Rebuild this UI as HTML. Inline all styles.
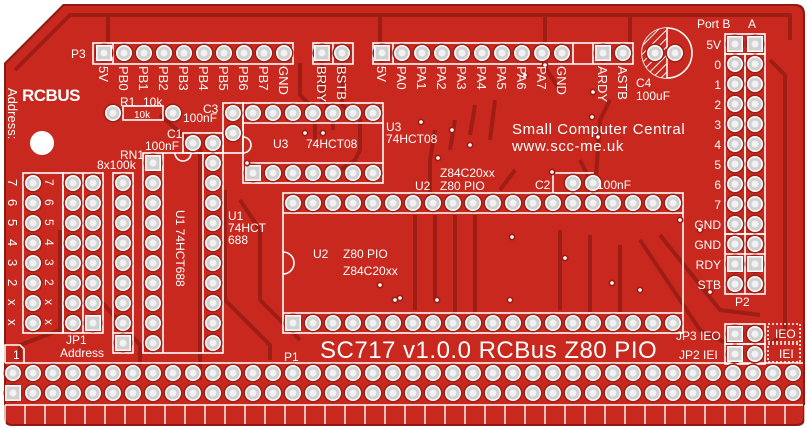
<!DOCTYPE html>
<html><head><meta charset="utf-8"><style>
html,body{margin:0;padding:0;background:#fff;width:807px;height:428px;overflow:hidden}
svg{display:block}
text{font-family:"Liberation Sans",sans-serif;fill:#fff}
</style></head><body>
<svg id="s" width="807" height="428" viewBox="0 0 807 428" xmlns="http://www.w3.org/2000/svg">
<defs>
<pattern id="h" width="6" height="6" patternUnits="userSpaceOnUse" patternTransform="rotate(45)"><rect width="6" height="6" fill="#c8281e"/><line x1="0" y1="0" x2="0" y2="6" stroke="#fff" stroke-width="2"/></pattern>
</defs>
<path d="M63,4 L795,4 Q805,4 805,14 L805,418 Q805,426 797,426 L12,426 Q4,426 4,418 L4,63 Z" fill="#8e1a12"/>
<path d="M64,6 L794,6 Q803,6 803,15 L803,417 Q803,424 796,424 L12,424 Q6,424 6,418 L6,64 Z" fill="#c8281e"/>
<g fill="none" stroke="#9e1d14" stroke-width="4" stroke-linejoin="round">
<path d="M15,70 L70,15 L790,15 L790,40"/>
<path d="M108,15 L108,44 M380,15 L380,44 M545,15 L545,44 M630,15 L630,44"/>
<path d="M300,63 L300,95 L315,110 L315,140"/>
<path d="M322,63 L322,100 L333,110 L333,130"/>
<path d="M342,63 L342,105 L360,120 L360,150 L355,160 L340,170"/>
<path d="M160,115 L200,150 L200,380"/>
<path d="M225,190 L225,300 L270,345 L270,360"/>
<path d="M435,130 L430,160 L430,195 M455,120 L450,150 M475,105 L470,135 M495,100 L490,140 M515,170 L500,190"/>
<path d="M415,215 L415,310 M435,215 L435,300 M455,215 L455,320 M475,215 L475,315 M560,230 L560,310 M590,235 L590,312 M620,245 L620,312"/>
<path d="M640,240 L700,330 L730,345 M660,235 L720,310 L760,315"/>
<path d="M770,60 L785,75 L785,330 L770,345"/>
<path d="M580,160 L590,180 L600,200 M610,100 L600,120 L595,190"/>
<path d="M60,230 L60,330 L20,345 L20,360"/>
<path d="M100,300 L140,345 L140,365"/>
<path d="M240,200 L260,230 L260,300 L300,340"/>
<path d="M540,60 L560,90"/>
</g>
<g fill="none" stroke="#fff" stroke-width="1.6">
<rect x="93" y="43" width="200" height="21"/><line x1="113" y1="43" x2="113" y2="64"/>
<rect x="313" y="43" width="40" height="21"/><line x1="333" y1="43" x2="333" y2="64"/>
<rect x="373" y="43" width="260" height="21"/><line x1="393" y1="43" x2="393" y2="64"/><line x1="573" y1="43" x2="573" y2="64"/><line x1="593" y1="43" x2="593" y2="64"/>
<rect x="725" y="34" width="40" height="20"/><rect x="725" y="54" width="20" height="180"/><rect x="745" y="54" width="20" height="180"/>
<rect x="725" y="234" width="40" height="60"/><line x1="745" y1="234" x2="745" y2="294"/><line x1="725" y1="254" x2="765" y2="254"/>
<rect x="725" y="324" width="40" height="20"/><rect x="725" y="344" width="40" height="20"/>
<rect x="768" y="324" width="32" height="18" stroke-dasharray="2,2"/><rect x="768" y="344" width="32" height="18" stroke-dasharray="2,2"/>
<rect x="283" y="193" width="400" height="140"/><line x1="283" y1="213" x2="683" y2="213"/><line x1="283" y1="313" x2="683" y2="313"/>
<path d="M283,252 A11,11 0 0 1 283,274"/>
<rect x="243" y="103" width="140" height="80"/><line x1="243" y1="123" x2="383" y2="123"/><line x1="243" y1="163" x2="383" y2="163"/>
<path d="M243,137 A8,8 0 0 1 243,153"/>
<rect x="223" y="103" width="20" height="50"/><rect x="183" y="133" width="40" height="20"/>
<rect x="143" y="153" width="80" height="200"/><line x1="163" y1="153" x2="163" y2="353"/><line x1="203" y1="153" x2="203" y2="353"/>
<path d="M175,153 A8,8 0 0 0 191,153"/>
<rect x="113" y="173" width="20" height="180"/><line x1="113" y1="333" x2="133" y2="333"/>
<rect x="23" y="173" width="40" height="160"/><rect x="63" y="173" width="40" height="160"/><line x1="83" y1="173" x2="83" y2="333"/>
<rect x="123" y="106" width="40" height="14"/>
<rect x="553" y="173" width="40" height="20"/>
<path d="M5,363 L5,345 L20,345 L24,349 L24,363 M5,363 L803,363 M5,405 L803,405"/>
<circle cx="667" cy="53" r="25"/>
</g>
<path d="M667,28 A25,25 0 0 0 667,78 Z" fill="url(#h)"/>
<path d="M667,28 L667,78" stroke="#fff" stroke-width="1.5"/>
<circle cx="42" cy="143" r="12" fill="#fff"/>
<g id="pads"></g>
<g id="fing" stroke="#fff" stroke-width="1.4"></g>
<g font-size="12">
<text x="71" y="58">P3</text>
<text x="120" y="106">R1</text><text x="143" y="106">10k</text>
<text x="134" y="118" font-size="10">10k</text>
<text x="203" y="113">C3</text><text x="183" y="122">100nF</text>
<text x="167" y="138">C1</text><text x="145" y="150">100nF</text>
<text x="120" y="159">RN1</text><text x="97" y="169">8x100k</text>
<text x="273" y="148">U3</text><text x="306" y="148">74HCT08</text>
<text x="386" y="131">U3</text><text x="386" y="143">74HCT08</text>
<text x="228" y="220">U1</text><text x="228" y="232">74HCT</text><text x="228" y="244">688</text>
<text transform="translate(176,210) rotate(90)">U1 74HCT688</text>
<text x="313" y="258">U2</text><text x="343" y="258">Z80 PIO</text><text x="343" y="275">Z84C20xx</text>
<text x="440" y="177">Z84C20xx</text><text x="415" y="190">U2</text><text x="440" y="190">Z80 PIO</text>
<text x="535" y="189">C2</text><text x="597" y="189">100nF</text>
<text x="636" y="87">C4</text><text x="636" y="100">100uF</text>
<text x="66" y="344">JP1</text><text x="60" y="357">Address</text>
<text x="284" y="361">P1</text>
<text x="13" y="359">1</text>
<text x="735" y="306">P2</text>
<text x="697" y="28">Port B</text><text x="748" y="28">A</text>
<text x="775" y="338">IEO</text><text x="779" y="358">IEI</text>
<text x="676" y="340">JP3 IEO</text><text x="679" y="359">JP2 IEI</text>
</g>
<g font-size="12" text-anchor="end" id="p2l"></g>
<text x="512" y="134" font-size="15" letter-spacing="0.6">Small Computer Central</text>
<text x="512" y="151" font-size="15" letter-spacing="0.6">www.scc-me.uk</text>
<text x="320" y="358" font-size="24" letter-spacing="0.5">SC717  v1.0.0  RCBus  Z80  PIO</text>
<text x="22" y="101" font-size="17" font-weight="bold" letter-spacing="-0.5">RCBUS</text>
<text transform="translate(8,88) rotate(90)" font-size="13">Address:</text>
<g font-size="13" id="rl"></g>
<g font-size="12" id="al"></g>
</svg>
<script>
var NS="http://www.w3.org/2000/svg",P=document.getElementById('pads');
function el(t,a,p){var e=document.createElementNS(NS,t);for(var k in a)e.setAttribute(k,a[k]);(p||P).appendChild(e);return e;}
function pad(x,y,sq){el('circle',{cx:x,cy:y,r:9.5,fill:'#9e1d14'});
 if(sq){el('rect',{x:x-8,y:y-8,width:16,height:16,fill:'#fff'});el('rect',{x:x-6.5,y:y-6.5,width:13,height:13,fill:'#d0d0d0'});}
 else{el('circle',{cx:x,cy:y,r:8,fill:'#fff'});el('circle',{cx:x,cy:y,r:6.5,fill:'#d0d0d0'});}
 el('circle',{cx:x,cy:y,r:3.5,fill:'#f2f2f2'});}
function via(x,y){el('circle',{cx:x,cy:y,r:3.5,fill:'#9e1d14'});el('circle',{cx:x,cy:y,r:1.8,fill:'#fff'});}
var i;
pad(104,53,1);for(i=1;i<10;i++)pad(104+20*i,53);
pad(322,53,1);pad(342,53);
pad(382,53,1);for(i=1;i<10;i++)pad(382+20*i,53);
pad(603,53,1);pad(623,53);
pad(655,53);pad(675,53);
pad(113,113);pad(173,113);
pad(233,113);pad(233,133);pad(193,143);pad(213,143);
for(i=0;i<7;i++){pad(253+20*i,113);pad(253+20*i,173,i==0);}
for(i=0;i<20;i++){pad(293+20*i,203);pad(293+20*i,323,i==0);}
pad(573,183);pad(593,183);
for(i=0;i<10;i++){pad(153,163+20*i,i==0);pad(213,163+20*i);}
for(i=0;i<9;i++)pad(123,183+20*i,i==8);
for(i=0;i<8;i++){pad(33,183+20*i);pad(73,183+20*i);pad(93,183+20*i,i==7);}
pad(735,44,1);pad(755,44,1);
for(i=1;i<13;i++){pad(735,44+20*i,i==11);pad(755,44+20*i,i==11);}
pad(735,334,1);pad(755,334);pad(735,354,1);pad(755,354);
for(i=0;i<40;i++){pad(13+20*i,373);pad(13+20*i,393,i==0);}
[[305,133],[323,133],[247,163],[421,122],[400,298],[510,300],[452,130],[438,158],[437,300],[565,258],[640,290],[680,220],[700,230],[552,172],[593,92],[592,117],[612,283],[710,292],[598,137],[545,65],[525,75],[470,145],[395,300],[512,237],[380,285]].forEach(function(v){via(v[0],v[1]);});
var F=document.getElementById('fing');
for(i=0;i<40;i++)el('line',{x1:25+20*i,y1:405,x2:25+20*i,y2:424},F);
el('line',{x1:5,y1:405,x2:5,y2:424},F);
var L=document.getElementById('p2l'),lab=['5V','0','1','2','3','4','5','6','7','GND','GND','RDY','STB'];
lab.forEach(function(t,j){var e=el('text',{x:721,y:49+20*j},L);e.textContent=t;});
var R=document.getElementById('rl');
var toplab=['5V','PB0','PB1','PB2','PB3','PB4','PB5','PB6','PB7','GND'];
toplab.forEach(function(t,j){var e=el('text',{transform:'translate('+(99+20*j)+',66) rotate(90)'},R);e.textContent=t;});
[['BRDY',317],['BSTB',337],['5V',377],['PA0',397],['PA1',417],['PA2',437],['PA3',457],['PA4',477],['PA5',497],['PA6',517],['PA7',537],['GND',557],['ARDY',598],['ASTB',618]].forEach(function(a){var e=el('text',{transform:'translate('+a[1]+',66) rotate(90)'},R);e.textContent=a[0];});
var A=document.getElementById('al'),al=['7','6','5','4','3','2','x','x'];
al.forEach(function(t,j){var e=el('text',{transform:'translate(45,'+(179+20*j)+') rotate(90)'},A);e.textContent=t;
 var e2=el('text',{transform:'translate(8,'+(179+20*j)+') rotate(90)','font-size':'13'},A);e2.textContent=t;});
</script>
</body></html>
